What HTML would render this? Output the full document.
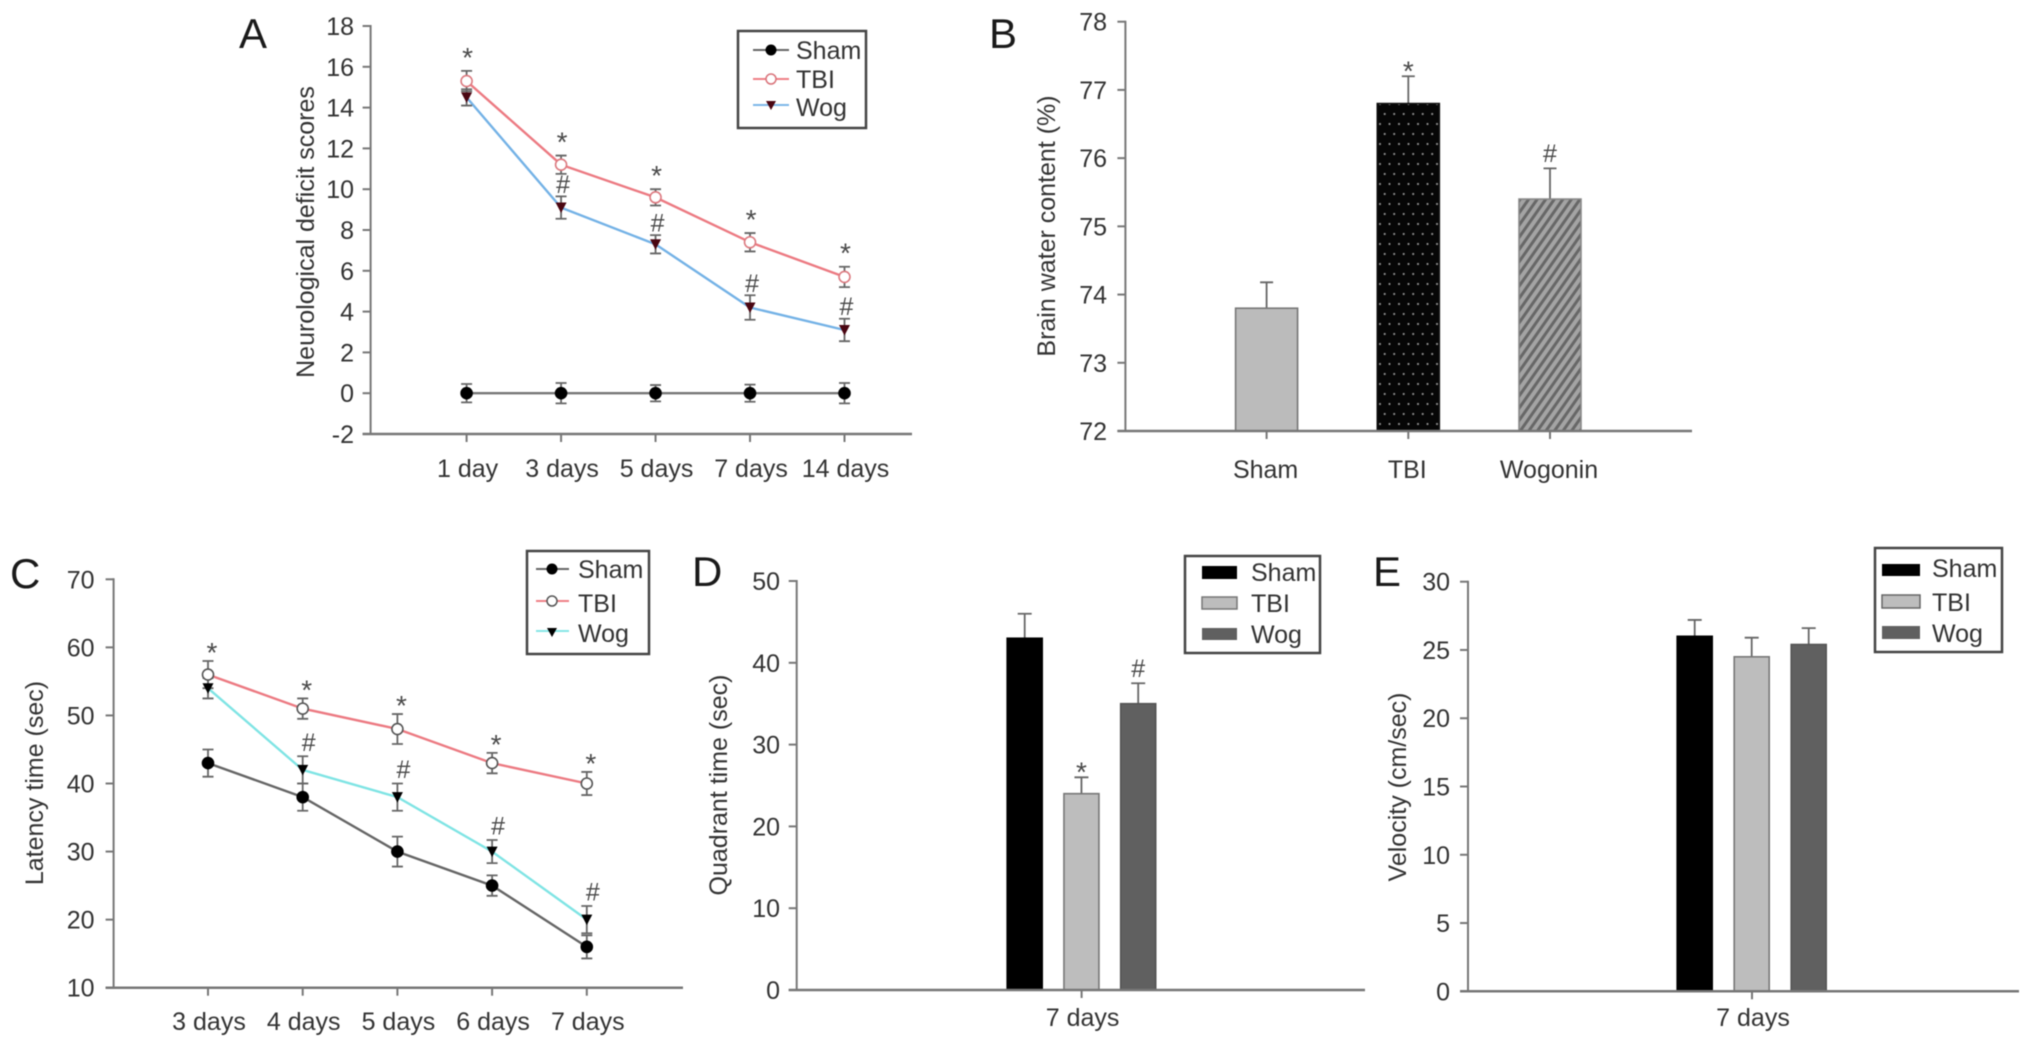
<!DOCTYPE html>
<html lang="en">
<head>
<meta charset="utf-8">
<title>Neurological and behavioural outcome charts</title>
<style>
  html, body { margin: 0; padding: 0; background: #fff; }
  #figure { display: block; width: 2032px; height: 1048px; filter: blur(0.6px); }
  text { font-family: "Liberation Sans", Arial, sans-serif; fill: #333; font-size: 25px; }
  .letter { font-size: 42px; fill: #1a1a1a; }
  .frame { fill: #fff; stroke: #444; stroke-width: 2.5; }
</style>
</head>
<body>
<svg id="figure" xmlns="http://www.w3.org/2000/svg" width="2032" height="1048" viewBox="0 0 2032 1048">
  <defs>
    <pattern id="dot-fill" width="9.5" height="20" patternUnits="userSpaceOnUse">
      <rect width="9.5" height="20" fill="#060606"/>
      <circle cx="2.5" cy="4" r="1.1" fill="#8a8a8a"/>
      <circle cx="7.2" cy="14" r="1.1" fill="#8a8a8a"/>
    </pattern>
    <pattern id="hatch-fill" width="7" height="7" patternUnits="userSpaceOnUse" patternTransform="rotate(35)">
      <rect width="7" height="7" fill="#a4a4a4"/>
      <rect width="3" height="7" fill="#676767"/>
    </pattern>
  </defs>

  <g id="panel-a">
    <text class="letter" x="239" y="48">A</text>
    <text x="0" y="0" text-anchor="middle" transform="translate(314 232) rotate(-90)">Neurological deficit scores</text>
    <rect class="frame" x="738" y="31" width="128" height="97"/>
    <g>
      <line x1="753" y1="50" x2="789" y2="50" stroke="#666" stroke-width="2"/>
      <circle cx="771" cy="50" r="5.5" fill="#000"/>
      <text x="796" y="59">Sham</text>
    </g>
    <g>
      <line x1="753" y1="79" x2="789" y2="79" stroke="#ef7f86" stroke-width="2"/>
      <circle cx="771" cy="79" r="5" fill="#fff" stroke="#d9737a" stroke-width="1.5"/>
      <text x="796" y="88">TBI</text>
    </g>
    <g>
      <line x1="753" y1="105" x2="789" y2="105" stroke="#7db7e8" stroke-width="2"/>
      <polygon points="766,101 776,101 771,110" fill="#4a0612"/>
      <text x="796" y="116">Wog</text>
    </g>
  </g>

  <g id="panel-b">
    <text class="letter" x="989" y="48">B</text>
    <text x="0" y="0" text-anchor="middle" transform="translate(1055 226) rotate(-90)">Brain water content (%)</text>
  </g>

  <g id="panel-c">
    <text class="letter" x="10" y="588">C</text>
    <text x="0" y="0" text-anchor="middle" transform="translate(43 783) rotate(-90)">Latency time (sec)</text>
    <rect class="frame" x="527" y="551" width="122" height="103"/>
    <g>
      <line x1="536" y1="569" x2="569" y2="569" stroke="#666" stroke-width="2"/>
      <circle cx="552" cy="569" r="5.5" fill="#000"/>
      <text x="578" y="578">Sham</text>
    </g>
    <g>
      <line x1="536" y1="601" x2="569" y2="601" stroke="#ef7f86" stroke-width="2"/>
      <circle cx="552" cy="601" r="5" fill="#fff" stroke="#555" stroke-width="1.5"/>
      <text x="578" y="612">TBI</text>
    </g>
    <g>
      <line x1="536" y1="631" x2="569" y2="631" stroke="#86e6e6" stroke-width="2"/>
      <polygon points="547,628 557,628 552,637" fill="#000"/>
      <text x="578" y="642">Wog</text>
    </g>
  </g>

  <g id="panel-d">
    <text class="letter" x="692" y="586">D</text>
    <text x="0" y="0" text-anchor="middle" transform="translate(727 785) rotate(-90)">Quadrant time (sec)</text>
    <rect class="frame" x="1185" y="556" width="135" height="97"/>
    <g>
      <rect x="1202" y="566" width="35" height="13" fill="#000"/>
      <text x="1251" y="581">Sham</text>
    </g>
    <g>
      <rect x="1202" y="597" width="35" height="12" fill="#bdbdbd" stroke="#777" stroke-width="1.5"/>
      <text x="1251" y="612">TBI</text>
    </g>
    <g>
      <rect x="1202" y="628" width="35" height="12" fill="#606060"/>
      <text x="1251" y="643">Wog</text>
    </g>
  </g>

  <g id="panel-e">
    <text class="letter" x="1373" y="586">E</text>
    <text x="0" y="0" text-anchor="middle" transform="translate(1406 787) rotate(-90)">Velocity (cm/sec)</text>
    <rect class="frame" x="1875" y="548" width="127" height="104"/>
    <g>
      <rect x="1882" y="564" width="38" height="12" fill="#000"/>
      <text x="1932" y="577">Sham</text>
    </g>
    <g>
      <rect x="1882" y="595" width="38" height="13" fill="#bdbdbd" stroke="#666" stroke-width="1.5"/>
      <text x="1932" y="611">TBI</text>
    </g>
    <g>
      <rect x="1882" y="626" width="38" height="13" fill="#606060"/>
      <text x="1932" y="642">Wog</text>
    </g>
  </g>
</svg>

<script>
// ---- Panel A values ----
const aCategories = ['1 day', '3 days', '5 days', '7 days', '14 days'];
const aTicks = ['-2', '0', '2', '4', '6', '8', '10', '12', '14', '16', '18'];
const aSham = [0, 0, 0, 0, 0];
const aShamErr = [0.45, 0.5, 0.4, 0.42, 0.5];
const aTbi = [15.3, 11.2, 9.6, 7.4, 5.7];
const aTbiErr = [0.5, 0.45, 0.4, 0.45, 0.5];
const aWog = [14.5, 9.1, 7.3, 4.2, 3.1];
const aWogErr = [0.4, 0.55, 0.45, 0.6, 0.55];
const aWogFlags = [false, true, true, true, true];

// ---- Panel B values ----
const bCategories = ['Sham', 'TBI', 'Wogonin'];
const bTicks = ['72', '73', '74', '75', '76', '77', '78'];
const bValues = [73.8, 76.8, 75.4];
const bErr = [0.38, 0.4, 0.45];
const bMarks = ['', '*', '#'];

// ---- Panel C values ----
const cCategories = ['3 days', '4 days', '5 days', '6 days', '7 days'];
const cTicks = ['10', '20', '30', '40', '50', '60', '70'];
const cSham = [43, 38, 30, 25, 16];
const cShamErr = [2, 2, 2.2, 1.5, 1.7];
const cTbi = [56, 51, 48, 43, 40];
const cTbiErr = [2, 1.5, 2.2, 1.5, 1.7];
const cWog = [54, 42, 38, 30, 20];
const cWogErr = [1.5, 2, 2, 1.7, 2];
const cWogFlags = [false, true, true, true, true];

// ---- Panel D values ----
const dCategory = ['7 days'];
const dTicks = ['0', '10', '20', '30', '40', '50'];
const dValues = [43, 24, 35];
const dErr = [3, 2, 2.5];
const dMarks = ['', '*', '#'];

// ---- Panel E values ----
const eCategory = ['7 days'];
const eTicks = ['0', '5', '10', '15', '20', '25', '30'];
const eValues = [26, 24.5, 25.4];
const eErr = [1.2, 1.4, 1.2];
const eMarks = ['', '', ''];

const NS = 'http://www.w3.org/2000/svg';
const AXIS = '#777';
const ERR = '#666';

function mk(parent, tag, name, attrs, txt) {
  const el = document.createElementNS(NS, tag);
  
  
  for (const k in attrs) el.setAttribute(k, attrs[k]);
  if (txt !== undefined) el.textContent = txt;
  parent.appendChild(el);
  return el;
}

function linear(d0, d1, p0, p1) {
  return function (v) { return p0 + (v - d0) * (p1 - p0) / (d1 - d0); };
}

function drawAxes(g, id, f, ticks, y) {
  mk(g, 'line', 'y-axis-' + id, { x1: f.left, y1: f.top - 1, x2: f.left, y2: f.bottom + 1, stroke: AXIS, 'stroke-width': 2 });
  mk(g, 'line', 'x-axis-' + id, { x1: f.left - 8, y1: f.bottom, x2: f.right, y2: f.bottom, stroke: AXIS, 'stroke-width': 2.5 });
  ticks.forEach(function (t) {
    const py = y(Number(t));
    mk(g, 'line', 'y-tick-' + id + '-' + t, { x1: f.left - 8, y1: py, x2: f.left, y2: py, stroke: AXIS, 'stroke-width': 2 });
    mk(g, 'text', 'y-tick-label-' + id + '-' + t, { x: f.labelRight, y: py + 9, 'text-anchor': 'end' }, t);
  });
}

function drawXLabels(g, id, cats, x, f, dx) {
  cats.forEach(function (c, i) {
    mk(g, 'line', 'x-tick-' + id + '-' + i, { x1: x(i), y1: f.bottom, x2: x(i), y2: f.bottom + 8, stroke: AXIS, 'stroke-width': 2 });
    mk(g, 'text', 'x-tick-label-' + id + '-' + i, { x: x(i) + dx, y: f.labelBase, 'text-anchor': 'middle' }, c);
  });
}

function drawLine(g, name, vals, x, y, color) {
  const pts = vals.map(function (v, i) { return x(i).toFixed(1) + ',' + y(v).toFixed(1); }).join(' ');
  mk(g, 'polyline', 'line-' + name, { points: pts, fill: 'none', stroke: color, 'stroke-width': 2.4 });
}

function drawErrors(g, name, vals, errs, x, y) {
  vals.forEach(function (v, i) {
    const px = x(i);
    const t = y(v + errs[i]);
    const b = y(v - errs[i]);
    mk(g, 'path', 'error-bar-' + name + '-' + i, {
      d: 'M' + px + ' ' + t + 'V' + b + 'M' + (px - 5.5) + ' ' + t + 'H' + (px + 5.5) + 'M' + (px - 5.5) + ' ' + b + 'H' + (px + 5.5),
      fill: 'none', stroke: ERR, 'stroke-width': 1.8
    });
  });
}

function drawPoints(g, name, vals, x, y, kind, fill, stroke) {
  vals.forEach(function (v, i) {
    const px = x(i);
    const py = y(v);
    if (kind === 'tri') {
      mk(g, 'polygon', 'point-' + name + '-' + i, { points: (px - 5.5) + ',' + (py - 5) + ' ' + (px + 5.5) + ',' + (py - 5) + ' ' + px + ',' + (py + 5.5), fill: fill });
    } else {
      mk(g, 'circle', 'point-' + name + '-' + i, { cx: px, cy: py, r: 5.5, fill: fill, stroke: stroke, 'stroke-width': 1.6 });
    }
  });
}

function drawSymbol(g, name, sym, cx, cy) {
  const isStar = sym === '*';
  mk(g, 'text', name, { x: cx, y: cy + (isStar ? 16 : 8.5), 'text-anchor': 'middle', style: 'fill:#4a4a4a;font-size:' + (isStar ? 28 : 25) + 'px' }, sym);
}

function drawBars(g, id, vals, errs, marks, x, y, baseValue, w, fills, strokes, capHalf, starGap, hashGap) {
  vals.forEach(function (v, i) {
    const px = x(i);
    const top = y(v);
    const et = y(v + errs[i]);
    mk(g, 'path', 'error-bar-' + id + '-' + i, {
      d: 'M' + px + ' ' + top + 'V' + et + 'M' + (px - capHalf) + ' ' + et + 'H' + (px + capHalf),
      fill: 'none', stroke: ERR, 'stroke-width': 1.8
    });
    mk(g, 'rect', 'bar-' + id + '-' + i, {
      x: px - w / 2, y: top, width: w, height: Math.max(0, y(baseValue) - top),
      fill: fills[i], stroke: strokes[i], 'stroke-width': 1.6
    });
    if (marks[i]) drawSymbol(g, 'significance-' + id + '-' + i, marks[i], px, et - (marks[i] === '*' ? starGap : hashGap));
  });
}

// ---- Panel A ----
(function () {
  const g = document.getElementById('panel-a');
  const f = { left: 370.6, right: 912, top: 26, bottom: 434, labelRight: 354, labelBase: 477 };
  const y = linear(-2, 18, f.bottom, f.top);
  const x = linear(0, 4, 466.6, 844.5);
  drawAxes(g, 'a', f, aTicks, y);
  drawXLabels(g, 'a', aCategories, x, f, 1);
  drawLine(g, 'a-sham', aSham, x, y, '#777');
  drawLine(g, 'a-tbi', aTbi, x, y, '#ec7a82');
  drawLine(g, 'a-wog', aWog, x, y, '#74b2e6');
  drawErrors(g, 'a-sham', aSham, aShamErr, x, y);
  drawErrors(g, 'a-tbi', aTbi, aTbiErr, x, y);
  drawErrors(g, 'a-wog', aWog, aWogErr, x, y);
  drawPoints(g, 'a-sham', aSham, x, y, 'circle', '#000', '#000');
  drawPoints(g, 'a-tbi', aTbi, x, y, 'circle', '#fff', '#dc7a80');
  drawPoints(g, 'a-wog', aWog, x, y, 'tri', '#4a0612');
  aTbi.forEach(function (v, i) {
    drawSymbol(g, 'significance-a-tbi-' + i, '*', x(i) + 1, y(v + aTbiErr[i]) - 20);
  });
  aWog.forEach(function (v, i) {
    if (aWogFlags[i]) drawSymbol(g, 'significance-a-wog-' + i, '#', x(i) + 2, y(v + aWogErr[i]) - 12);
  });
})();

// ---- Panel B ----
(function () {
  const g = document.getElementById('panel-b');
  const f = { left: 1125.4, right: 1692, top: 21.7, bottom: 431, labelRight: 1107, labelBase: 478 };
  const y = linear(72, 78, f.bottom, f.top);
  const x = linear(0, 2, 1266.6, 1550);
  drawBars(g, 'b', bValues, bErr, bMarks, x, y, 72, 62, ['#bbb', 'url(#dot-fill)', 'url(#hatch-fill)'], ['#777', '#111', '#888'], 6.5, 12, 15);
  drawAxes(g, 'b', f, bTicks, y);
  drawXLabels(g, 'b', bCategories, x, f, -1);
})();

// ---- Panel C ----
(function () {
  const g = document.getElementById('panel-c');
  const f = { left: 113.6, right: 683, top: 579.3, bottom: 987.7, labelRight: 94.5, labelBase: 1030 };
  const y = linear(10, 70, f.bottom, f.top);
  const x = linear(0, 4, 208, 586.8);
  drawAxes(g, 'c', f, cTicks, y);
  drawXLabels(g, 'c', cCategories, x, f, 1);
  drawLine(g, 'c-sham', cSham, x, y, '#666');
  drawLine(g, 'c-tbi', cTbi, x, y, '#ec7a82');
  drawLine(g, 'c-wog', cWog, x, y, '#7fe4e4');
  drawErrors(g, 'c-sham', cSham, cShamErr, x, y);
  drawErrors(g, 'c-tbi', cTbi, cTbiErr, x, y);
  drawErrors(g, 'c-wog', cWog, cWogErr, x, y);
  drawPoints(g, 'c-sham', cSham, x, y, 'circle', '#000', '#000');
  drawPoints(g, 'c-tbi', cTbi, x, y, 'circle', '#fff', '#555');
  drawPoints(g, 'c-wog', cWog, x, y, 'tri', '#000');
  cTbi.forEach(function (v, i) {
    drawSymbol(g, 'significance-c-tbi-' + i, '*', x(i) + 4, y(v + cTbiErr[i]) - 15);
  });
  cWog.forEach(function (v, i) {
    if (cWogFlags[i]) drawSymbol(g, 'significance-c-wog-' + i, '#', x(i) + 6, y(v + cWogErr[i]) - 14);
  });
})();

// ---- Panel D ----
(function () {
  const g = document.getElementById('panel-d');
  const f = { left: 796.7, right: 1365, top: 581, bottom: 990, labelRight: 780, labelBase: 1026 };
  const y = linear(0, 50, f.bottom, f.top);
  const x = linear(0, 2, 1024.7, 1138.2);
  drawBars(g, 'd', dValues, dErr, dMarks, x, y, 0, 35, ['#000', '#bdbdbd', '#606060'], ['#000', '#777', '#555'], 7, 12, 15);
  drawAxes(g, 'd', f, dTicks, y);
  drawXLabels(g, 'd', dCategory, function () { return 1081.6; }, f, 1);
})();

// ---- Panel E ----
(function () {
  const g = document.getElementById('panel-e');
  const f = { left: 1468, right: 2019, top: 581.7, bottom: 991.3, labelRight: 1450, labelBase: 1026 };
  const y = linear(0, 30, f.bottom, f.top);
  const x = linear(0, 2, 1694.7, 1808.7);
  drawBars(g, 'e', eValues, eErr, eMarks, x, y, 0, 35, ['#000', '#bdbdbd', '#606060'], ['#000', '#777', '#555'], 7, 12, 15);
  drawAxes(g, 'e', f, eTicks, y);
  drawXLabels(g, 'e', eCategory, function () { return 1752; }, f, 1);
})();
</script>
</body>
</html>
